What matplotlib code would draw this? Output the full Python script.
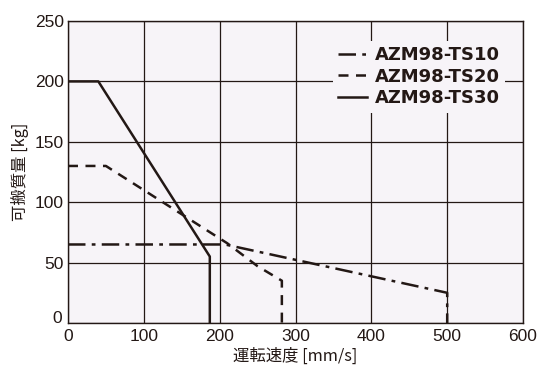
import matplotlib.pyplot as plt
import matplotlib.transforms as mtransforms

# Data
ts10_speed = [0, 207, 500, 500]
ts10_mass = [65, 65, 25, 0]

ts20_speed = [0, 50, 75, 100, 150, 200, 210, 250, 282, 282]
ts20_mass = [130, 130, 120, 110, 90, 70, 66, 47, 35, 0]

ts30_speed = [0, 40, 187, 187]
ts30_mass = [200, 200, 55, 0]

x_ticks = [0, 100, 200, 300, 400, 500, 600]
y_ticks = [0, 50, 100, 150, 200, 250]

ink = '#231815'
bg = '#f7f4f8'
cjk = ['Noto Sans CJK JP', 'DejaVu Sans']

fig = plt.figure(figsize=(5.37, 3.67), dpi=100)
ax = fig.add_axes([0.1266, 0.1199, 0.8474, 0.8229])
ax.set_facecolor(bg)

ax.plot(ts10_speed, ts10_mass, color=ink, lw=1.8, dashes=(7, 2.5, 1.5, 2.5), label='AZM98-TS10')
ax.plot(ts20_speed, ts20_mass, color=ink, lw=1.8, dashes=(4, 3), label='AZM98-TS20')
ax.plot(ts30_speed, ts30_mass, color=ink, lw=1.8, label='AZM98-TS30')

ax.set_xlim(0, 600)
ax.set_ylim(0, 250)
ax.set_xticks(x_ticks)
ax.set_yticks(y_ticks)
ax.grid(True, color=ink, lw=0.9)
ax.set_axisbelow(True)
ax.tick_params(length=0, colors=ink)
ax.tick_params(axis='x', pad=4)
ax.tick_params(axis='y', pad=3)
for lab in ax.get_xticklabels() + ax.get_yticklabels():
    lab.set_fontfamily('Liberation Sans')
    lab.set_fontsize(12.5)
# lift the y "0" a little so it clears the x "0"
ylab0 = ax.get_yticklabels()[0]
ylab0.set_transform(ylab0.get_transform() +
                    mtransforms.ScaledTranslation(-1 / 72, 4 / 72, fig.dpi_scale_trans))
for sp in ax.spines.values():
    sp.set_color(ink)
    sp.set_linewidth(1.0)

ax.set_xlabel('運転速度 [mm/s]', family=cjk, fontsize=11.8, color=ink, labelpad=3)
ax.set_ylabel('可搬質量 [kg]', family=cjk, fontsize=11.8, color=ink, labelpad=4)

leg = ax.legend(loc='upper right', bbox_to_anchor=(0.98, 0.965), frameon=True,
                prop={'family': 'DejaVu Sans', 'weight': 'bold', 'size': 13},
                handlelength=1.6, handletextpad=0.4, labelspacing=0.2,
                borderpad=0.3, fancybox=False)
leg.get_frame().set_facecolor(bg)
leg.get_frame().set_edgecolor('none')
leg.get_frame().set_alpha(1)
for t in leg.get_texts():
    t.set_color(ink)

fig.savefig('out.png', dpi=100)
